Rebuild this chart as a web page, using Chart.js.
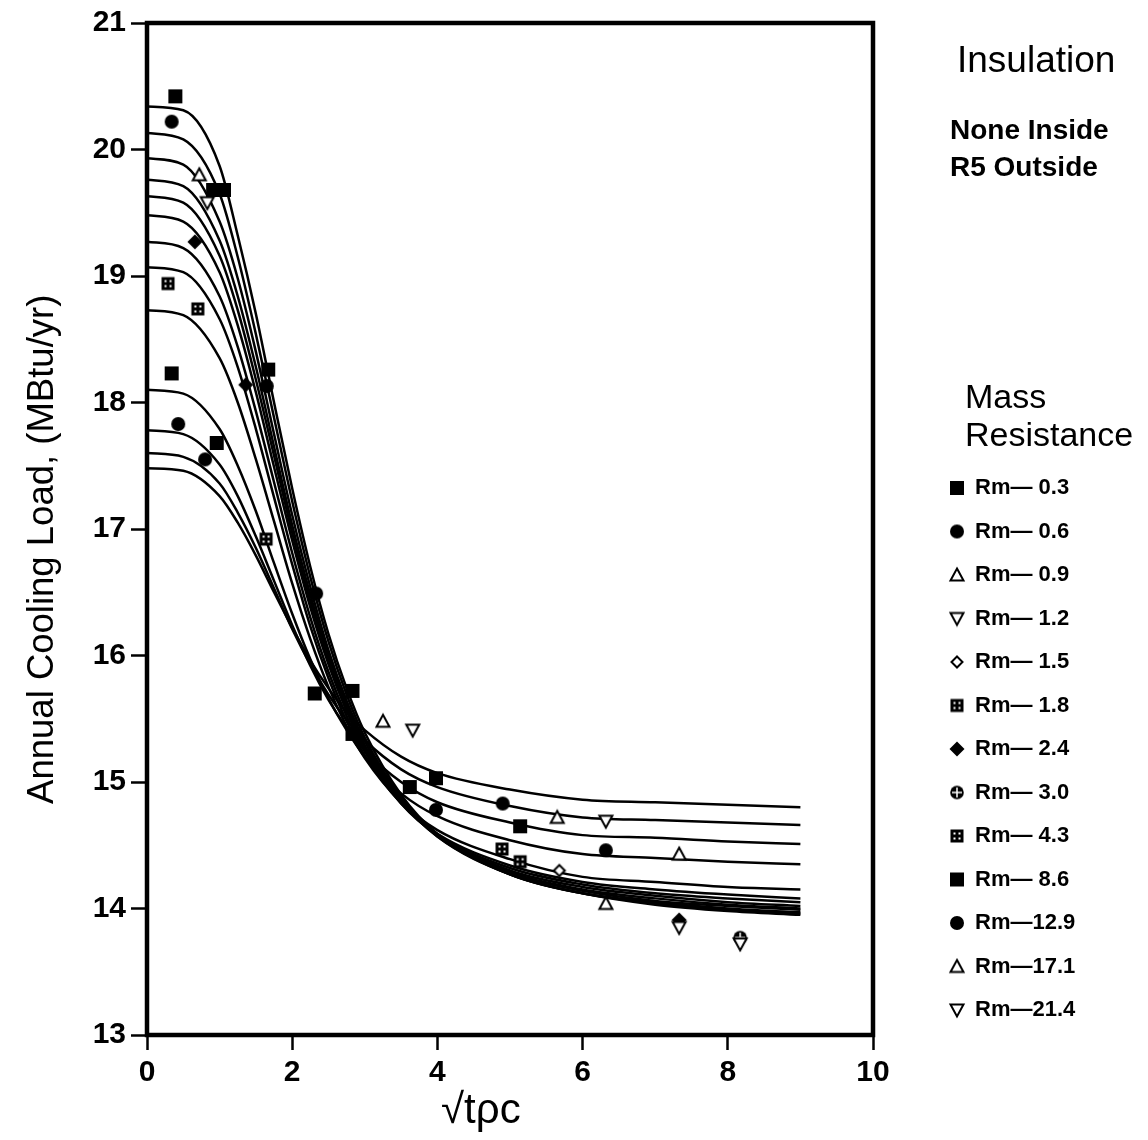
<!DOCTYPE html>
<html>
<head>
<meta charset="utf-8">
<script src="https://cdn.jsdelivr.net/npm/chart.js@4.4.1/dist/chart.umd.min.js"></script>
<style>
  html, body { margin: 0; padding: 0; background: #fff; }
</style>
</head>
<body>
<canvas id="coolingChart" width="1148" height="1140"></canvas>
<script>
// series names, same order as the legend
const rmLabels = ["Rm\u2014 0.3", "Rm\u2014 0.6", "Rm\u2014 0.9", "Rm\u2014 1.2", "Rm\u2014 1.5", "Rm\u2014 1.8", "Rm\u2014 2.4",
  "Rm\u2014 3.0", "Rm\u2014 4.3", "Rm\u2014 8.6", "Rm\u201412.9", "Rm\u201417.1", "Rm\u201421.4"];
const rmMarkers = ["square", "circle", "triUp", "triDown", "openDiamond", "dotSquare", "diamond",
  "crossCircle", "dotSquare", "square", "circle", "triUp", "triDown"];

// measured points [sqrt(t*rho*c), load]
const obsRm03 = [[0.39, 20.42], [0.91, 19.68], [1.06, 19.68], [1.67, 18.26], [2.83, 15.72], [3.62, 14.96]];
const obsRm06 = [[0.34, 20.22], [1.65, 18.13], [2.33, 16.49]];
const obsRm09 = [[0.72, 19.80], [6.32, 14.04]];
const obsRm12 = [[0.83, 19.58], [7.33, 13.85], [8.17, 13.72]];
const obsRm15 = [[5.68, 14.30]];
const obsRm18 = [[0.29, 18.94], [5.14, 14.37]];
const obsRm24 = [[0.66, 19.27], [1.36, 18.14], [7.33, 13.91]];
const obsRm30 = [[8.17, 13.77]];
const obsRm43 = [[0.70, 18.74], [1.64, 16.92], [4.89, 14.47]];
const obsRm86 = [[0.34, 18.23], [0.96, 17.68], [2.31, 15.70], [2.83, 15.38], [3.98, 15.03], [5.14, 14.65]];
const obsRm129 = [[0.43, 17.83], [0.80, 17.55], [3.98, 14.78], [4.90, 14.83], [6.32, 14.46]];
const obsRm171 = [[3.25, 15.48], [5.65, 14.72], [7.33, 14.43]];
const obsRm214 = [[3.66, 15.41], [6.32, 14.69]];

// fitted curves at these x positions
const fitX = [0, 0.5, 1, 1.25, 1.5, 1.75, 2, 2.25, 2.5, 2.75, 3, 3.5, 4, 5, 6, 7, 8, 9];
const fitRm03 = [20.34, 20.31, 19.87, 19.32, 18.70, 18.00, 17.32, 16.70, 16.17, 15.74, 15.39, 14.90, 14.59, 14.27, 14.12, 14.03, 13.98, 13.95];
const fitRm06 = [20.13, 20.08, 19.65, 19.15, 18.54, 17.88, 17.22, 16.62, 16.11, 15.69, 15.35, 14.88, 14.58, 14.27, 14.12, 14.04, 13.99, 13.96];
const fitRm09 = [19.93, 19.88, 19.43, 18.98, 18.40, 17.75, 17.11, 16.54, 16.04, 15.64, 15.32, 14.86, 14.57, 14.27, 14.12, 14.05, 14.00, 13.97];
const fitRm12 = [19.76, 19.71, 19.28, 18.84, 18.28, 17.65, 17.03, 16.48, 16.00, 15.61, 15.29, 14.85, 14.57, 14.28, 14.14, 14.06, 14.02, 13.99];
const fitRm15 = [19.63, 19.58, 19.16, 18.73, 18.18, 17.58, 16.97, 16.43, 15.97, 15.58, 15.28, 14.85, 14.58, 14.29, 14.15, 14.08, 14.03, 14.00];
const fitRm18 = [19.48, 19.43, 19.03, 18.61, 18.08, 17.49, 16.91, 16.38, 15.93, 15.56, 15.26, 14.84, 14.58, 14.30, 14.17, 14.10, 14.05, 14.02];
const fitRm24 = [19.27, 19.22, 18.84, 18.44, 17.93, 17.37, 16.81, 16.30, 15.87, 15.52, 15.24, 14.83, 14.58, 14.32, 14.19, 14.12, 14.08, 14.05];
const fitRm30 = [19.07, 19.03, 18.66, 18.28, 17.79, 17.25, 16.72, 16.23, 15.82, 15.48, 15.21, 14.83, 14.59, 14.34, 14.21, 14.15, 14.11, 14.08];
const fitRm43 = [18.73, 18.69, 18.35, 18.00, 17.55, 17.06, 16.57, 16.13, 15.75, 15.44, 15.19, 14.84, 14.62, 14.39, 14.25, 14.21, 14.17, 14.15];
const fitRm86 = [18.10, 18.07, 17.79, 17.50, 17.14, 16.73, 16.33, 15.97, 15.66, 15.41, 15.20, 14.91, 14.73, 14.54, 14.43, 14.40, 14.37, 14.35];
const fitRm129 = [17.78, 17.75, 17.51, 17.26, 16.94, 16.59, 16.24, 15.92, 15.65, 15.43, 15.25, 15.00, 14.84, 14.68, 14.58, 14.56, 14.53, 14.51];
const fitRm171 = [17.60, 17.57, 17.36, 17.13, 16.85, 16.53, 16.21, 15.93, 15.69, 15.49, 15.33, 15.10, 14.96, 14.81, 14.72, 14.70, 14.68, 14.66];
const fitRm214 = [17.48, 17.46, 17.26, 17.05, 16.79, 16.50, 16.22, 15.96, 15.74, 15.55, 15.41, 15.20, 15.07, 14.94, 14.86, 14.84, 14.82, 14.80];

const xTicks = [0, 2, 4, 6, 8, 10];
const yTicks = [13, 14, 15, 16, 17, 18, 19, 20, 21];

const xTitle = "\u221At\u03C1c";
const yTitle = "Annual Cooling Load, (MBtu/yr)";
const insulationTitle = "Insulation";
const insulationNotes = ["None Inside", "R5 Outside"];
const legendHeading = ["Mass", "Resistance"];

const observed = [obsRm03, obsRm06, obsRm09, obsRm12, obsRm15, obsRm18, obsRm24, obsRm30, obsRm43, obsRm86, obsRm129, obsRm171, obsRm214];
const fitted = [fitRm03, fitRm06, fitRm09, fitRm12, fitRm15, fitRm18, fitRm24, fitRm30, fitRm43, fitRm86, fitRm129, fitRm171, fitRm214];

const FONT = "'Liberation Sans', Arial, sans-serif";

// little marker glyphs drawn on canvases, used both on the plot and in the legend
function makeMarker(kind) {
  const c = document.createElement("canvas");
  c.width = 18;
  c.height = 18;
  const g = c.getContext("2d");
  const m = 9;
  g.fillStyle = "#000";
  g.strokeStyle = "#000";
  g.lineWidth = 2;
  if (kind === "square") {
    g.fillRect(2, 2, 14, 14);
  } else if (kind === "dotSquare") {
    g.fillRect(2.5, 2.5, 13, 13);
    g.fillStyle = "#fff";
    [[5.5, 5.5], [10.5, 5.5], [5.5, 10.5], [10.5, 10.5]].forEach(([x, y]) => g.fillRect(x, y, 2, 2));
  } else if (kind === "circle") {
    g.beginPath();
    g.arc(m, m, 7, 0, Math.PI * 2);
    g.fill();
  } else if (kind === "crossCircle") {
    g.beginPath();
    g.arc(m, m, 6.8, 0, Math.PI * 2);
    g.fill();
    g.strokeStyle = "#fff";
    g.lineWidth = 1.5;
    g.beginPath();
    g.moveTo(4, m); g.lineTo(14, m);
    g.moveTo(m, 4); g.lineTo(m, 14);
    g.stroke();
  } else if (kind === "triUp") {
    g.beginPath();
    g.moveTo(m, 2.5); g.lineTo(15.5, 14.5); g.lineTo(2.5, 14.5); g.closePath();
    g.fillStyle = "#fff";
    g.fill();
    g.stroke();
  } else if (kind === "triDown") {
    g.beginPath();
    g.moveTo(2.5, 3.5); g.lineTo(15.5, 3.5); g.lineTo(m, 15.5); g.closePath();
    g.fillStyle = "#fff";
    g.fill();
    g.stroke();
  } else if (kind === "diamond") {
    g.beginPath();
    g.moveTo(m, 1.5); g.lineTo(16.5, m); g.lineTo(m, 16.5); g.lineTo(1.5, m); g.closePath();
    g.fill();
  } else if (kind === "openDiamond") {
    g.beginPath();
    g.moveTo(m, 3.5); g.lineTo(14.5, m); g.lineTo(m, 14.5); g.lineTo(3.5, m); g.closePath();
    g.fillStyle = "#fff";
    g.fill();
    g.stroke();
  }
  return c;
}

const datasets = [];
// markers first so they are painted over the curves
observed.forEach((pts, i) => {
  datasets.push({
    label: rmLabels[i],
    data: pts.map(([x, y]) => ({ x, y })),
    pointStyle: makeMarker(rmMarkers[i]),
    pointRadius: 8,
    backgroundColor: "#000",
    borderColor: "#000",
    showLine: false
  });
});
fitted.forEach((ys, i) => {
  datasets.push({
    label: rmLabels[i] + " fit",
    data: fitX.map((x, j) => ({ x, y: ys[j] })),
    showLine: true,
    pointRadius: 0,
    borderColor: "#000",
    borderWidth: 2.5,
    cubicInterpolationMode: "monotone",
    fill: false
  });
});

// thick box round the plot
const frame = {
  id: "frame",
  afterDatasetsDraw(chart) {
    const { ctx, chartArea: a } = chart;
    ctx.save();
    ctx.strokeStyle = "#000";
    ctx.lineWidth = 4.5;
    ctx.strokeRect(a.left, a.top, a.right - a.left, a.bottom - a.top);
    ctx.restore();
  }
};

// texts on the right side of the figure
const sideNotes = {
  id: "sideNotes",
  afterDraw(chart) {
    const ctx = chart.ctx;
    ctx.save();
    ctx.fillStyle = "#000";
    ctx.textAlign = "left";
    ctx.textBaseline = "middle";
    ctx.font = "37px " + FONT;
    ctx.fillText(insulationTitle, 957, 62);
    ctx.font = "bold 28px " + FONT;
    insulationNotes.forEach((t, i) => ctx.fillText(t, 950, 131 + i * 37));
    ctx.font = "34px " + FONT;
    legendHeading.forEach((t, i) => ctx.fillText(t, 965, 399 + i * 38));
    ctx.restore();
  }
};

// move the legend box under the "Mass Resistance" heading
const legendPlace = {
  id: "legendPlace",
  afterLayout(chart) {
    const lg = chart.legend;
    const w = lg.width, h = lg.height;
    lg.left = 928.5;
    lg.right = lg.left + w;
    lg.top = 455.5;
    lg.bottom = lg.top + h;
  }
};

new Chart(document.getElementById("coolingChart"), {
  type: "scatter",
  data: { datasets },
  options: {
    responsive: false,
    animation: false,
    events: [],
    layout: { padding: { top: 20, right: 275, left: 0, bottom: 0 } },
    plugins: {
      tooltip: { enabled: false },
      legend: {
        position: "chartArea",
        align: "start",
        labels: {
          usePointStyle: true,
          boxWidth: 14,
          boxHeight: 14,
          padding: 21.5,
          color: "#000",
          font: { family: FONT, size: 22, weight: "bold" },
          filter: (item) => item.datasetIndex < rmLabels.length
        }
      }
    },
    scales: {
      x: {
        type: "linear",
        min: 0,
        max: 10,
        afterFit: (scale) => { scale.height = 105; },
        afterBuildTicks: (scale) => { scale.ticks = xTicks.map((v) => ({ value: v })); },
        ticks: { color: "#000", padding: 5, font: { family: FONT, size: 30, weight: "bold" } },
        grid: { display: true, drawOnChartArea: false, drawTicks: true, tickLength: 15, tickWidth: 2.5, color: "#000" },
        border: { display: true, color: "#000", width: 4 },
        // trailing spaces nudge the centred title to the left, as in the original
        title: { display: true, text: xTitle + "\u00A0\u00A0\u00A0\u00A0\u00A0", color: "#000", padding: { top: 0, bottom: 3 }, font: { family: FONT, size: 42 } }
      },
      y: {
        type: "linear",
        min: 13,
        max: 21,
        afterFit: (scale) => { scale.width = 147; },
        afterBuildTicks: (scale) => { scale.ticks = yTicks.map((v) => ({ value: v })); },
        ticks: { color: "#000", padding: 5, font: { family: FONT, size: 30, weight: "bold" } },
        grid: { display: true, drawOnChartArea: false, drawTicks: true, tickLength: 16, tickWidth: 2.5, color: "#000" },
        border: { display: true, color: "#000", width: 4 },
        title: { display: true, text: yTitle + "\u00A0\u00A0\u00A0\u00A0", color: "#000", padding: { top: 21, bottom: 0 }, font: { family: FONT, size: 36.5 } }
      }
    }
  },
  plugins: [frame, sideNotes, legendPlace]
});
</script>
</body>
</html>
